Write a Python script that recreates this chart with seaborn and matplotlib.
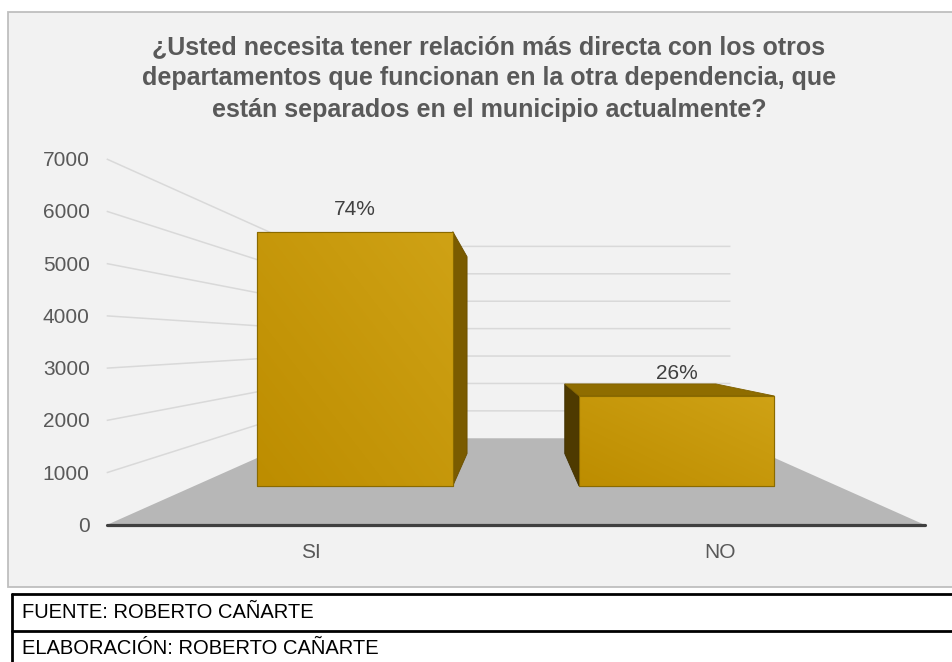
import numpy as np
import pandas as pd
import matplotlib
matplotlib.use("Agg")
import matplotlib.pyplot as plt
from matplotlib.patches import Polygon, Rectangle
from matplotlib.colors import LinearSegmentedColormap
import seaborn as sns

# ── Datos ────────────────────────────────────────────────────────────────────
categorias = ["SI", "NO"]
valores    = [6190, 2190]
y_ticks    = [0, 1000, 2000, 3000, 4000, 5000, 6000, 7000]
titulo     = ["¿Usted necesita tener relación más directa con los otros",
              "departamentos que funcionan en la otra dependencia, que",
              "están separados en el municipio actualmente?"]
fuente     = "FUENTE: ROBERTO CAÑARTE"
elaboracion = "ELABORACIÓN: ROBERTO CAÑARTE"

# ── Estilo ───────────────────────────────────────────────────────────────────
sns.set_theme(style="white")
plt.rcParams["font.family"] = ["Liberation Sans", "DejaVu Sans"]

W_PX, H_PX = 953, 662
GOLD   = "#c29400"
GRID   = "#d9d9d9"
TEXT   = "#595959"

# perspectiva tipo Excel 3D (en píxeles)
VPX, VPY = 516.0, 342.7          # punto de fuga
FX0, FX1 = 106.7, 925.0          # plano frontal del suelo
FY0      = 525.0                 # valor 0 en el plano frontal
PX_UNIT  = 366.0 / 7000          # px por unidad en el plano frontal
K        = 0.9073                # profundidad
D0, D1   = 0.30, 0.71            # profundidad de las barras
BAR_W    = 0.6075


def proj(X, V, d):
    s  = 1.0 / (1.0 + K * d)
    x0 = FX0 + (X + 0.5) * (FX1 - FX0) / 2
    y0 = FY0 - V * PX_UNIT
    return VPX + (x0 - VPX) * s, VPY + (y0 - VPY) * s


fig = plt.figure(figsize=(W_PX / 100, H_PX / 100), dpi=100)
fig.patch.set_facecolor("white")

# eje en píxeles para fondo, suelo y rejilla
ax = fig.add_axes([0, 0, 1, 1])
ax.set_xlim(0, W_PX)
ax.set_ylim(H_PX, 0)
ax.axis("off")
ax.set_zorder(0)

ax.add_patch(Rectangle((7.7, 11.7), 980, 575, facecolor="#f2f2f2",
                       edgecolor="#bfbfbf", linewidth=1.3))

# suelo
n = len(categorias)
floor = [proj(-0.5, 0, 0), proj(n - 0.5, 0, 0), proj(n - 0.5, 0, 1), proj(-0.5, 0, 1)]
ax.add_patch(Polygon(floor, closed=True, facecolor="#b7b7b7", edgecolor="none"))

# rejilla: pared izquierda y pared del fondo
for v in y_ticks[1:]:
    p_front = proj(-0.5, v, 0)
    p_back  = proj(-0.5, v, 1)
    p_right = proj(n - 0.5, v, 1)
    ax.plot([p_front[0], p_back[0], p_right[0]], [p_front[1], p_back[1], p_right[1]],
            color=GRID, lw=1.1, solid_capstyle="butt")

# eje horizontal frontal
a, b = proj(-0.5, 0, 0), proj(n - 0.5, 0, 0)
ax.plot([a[0], b[0]], [a[1], b[1]], color="#404040", lw=2.3, solid_capstyle="round")

# etiquetas del eje Y
for v in y_ticks:
    px, py = proj(-0.5, v, 0)
    ax.text(px - 17, py + 1.5, f"{v}", ha="right", va="center", fontsize=15, color=TEXT)

# etiquetas de categorías
for i, c in enumerate(categorias):
    px, py = proj(i, 0, 0)
    ax.text(px, py + 27, c, ha="center", va="center", fontsize=15, color=TEXT)

# título
for line, ty in zip(titulo, [47, 78.5, 110]):
    ax.text(489, ty, line, ha="center", va="center", fontsize=18,
            fontweight="bold", color=TEXT)

# pie: fuente / elaboración
ax.plot([12, 990], [594, 594], color="black", lw=2.0)
ax.plot([12, 990], [631, 631], color="black", lw=2.0)
ax.plot([12, 12], [594, 700], color="black", lw=2.0)
ax.text(22, 612, fuente, ha="left", va="center", fontsize=14.5, color="black")
ax.text(22, 649, elaboracion, ha="left", va="center", fontsize=14.5, color="black")

# ── Barras: cara frontal con seaborn en el plano d = D0 ─────────────────────
ax_bar = fig.add_axes([0, 0, 1, 1])
ax_bar.set_zorder(1)
ax_bar.patch.set_visible(False)

df = pd.DataFrame({"respuesta": categorias, "valor": valores})
sns.barplot(data=df, x="respuesta", y="valor", color=GOLD, saturation=1,
            width=BAR_W, edgecolor="#8a6a00", linewidth=0.8, ax=ax_bar)

s0 = 1.0 / (1.0 + K * D0)
xa = VPX + (FX0 + (FX1 - FX0) / 4 - VPX) * s0
xb = s0 * (FX1 - FX0) / 2
yc = VPY + (FY0 - VPY) * s0
ye = PX_UNIT * s0
ax_bar.set_xlim(-xa / xb, (W_PX - xa) / xb)
ax_bar.set_ylim((yc - H_PX) / ye, yc / ye)
ax_bar.axis("off")

# degradado suave en la cara frontal
grad_cmap = LinearSegmentedColormap.from_list("oro", ["#bd8d00", "#cfa215"])
gx, gy = np.meshgrid(np.linspace(0, 1, 64), np.linspace(0, 1, 64))
for patch in ax_bar.patches:
    x0, y0 = patch.get_x(), patch.get_y()
    w, h = patch.get_width(), patch.get_height()
    im = ax_bar.imshow((gx + gy) / 2, cmap=grad_cmap, origin="lower",
                       extent=[x0, x0 + w, y0, y0 + h], aspect="auto",
                       zorder=patch.get_zorder() + 0.01, interpolation="bilinear")
    im.set_clip_path(patch)
    ax_bar.add_patch(Rectangle((x0, y0), w, h, facecolor="none",
                               edgecolor="#8a6a00", linewidth=0.8,
                               zorder=patch.get_zorder() + 0.02))
ax_bar.set_xlim(-xa / xb, (W_PX - xa) / xb)
ax_bar.set_ylim((yc - H_PX) / ye, yc / ye)

# caras laterales y superior (en píxeles)
for i, v in enumerate(valores):
    xl, xr = i - BAR_W / 2, i + BAR_W / 2
    if proj(xr, 0, D0)[0] < VPX:
        side = [proj(xr, 0, D0), proj(xr, v, D0), proj(xr, v, D1), proj(xr, 0, D1)]
        ax_bar.add_patch(Polygon(side, closed=True, facecolor="#7a5b00",
                                 edgecolor="#6a4f00", linewidth=0.6,
                                 transform=ax.transData, zorder=0.8))
    elif proj(xl, 0, D0)[0] > VPX:
        side = [proj(xl, 0, D0), proj(xl, v, D0), proj(xl, v, D1), proj(xl, 0, D1)]
        ax_bar.add_patch(Polygon(side, closed=True, facecolor="#4e3a00",
                                 edgecolor="#3f2f00", linewidth=0.6,
                                 transform=ax.transData, zorder=0.8))
    if proj(xl, v, D0)[1] > VPY:
        top = [proj(xl, v, D0), proj(xr, v, D0), proj(xr, v, D1), proj(xl, v, D1)]
        ax_bar.add_patch(Polygon(top, closed=True, facecolor="#8f6d00",
                                 edgecolor="#7f6000", linewidth=0.6,
                                 transform=ax.transData, zorder=0.8))

# etiquetas de porcentaje
total = sum(valores)
for i, v in enumerate(valores):
    ax_bar.annotate(f"{round(v / total * 100)}%", (i, v), xytext=(0, 16),
                    textcoords="offset points", ha="center", va="center",
                    fontsize=15, color="#404040")

fig.savefig("out.png", dpi=100)
